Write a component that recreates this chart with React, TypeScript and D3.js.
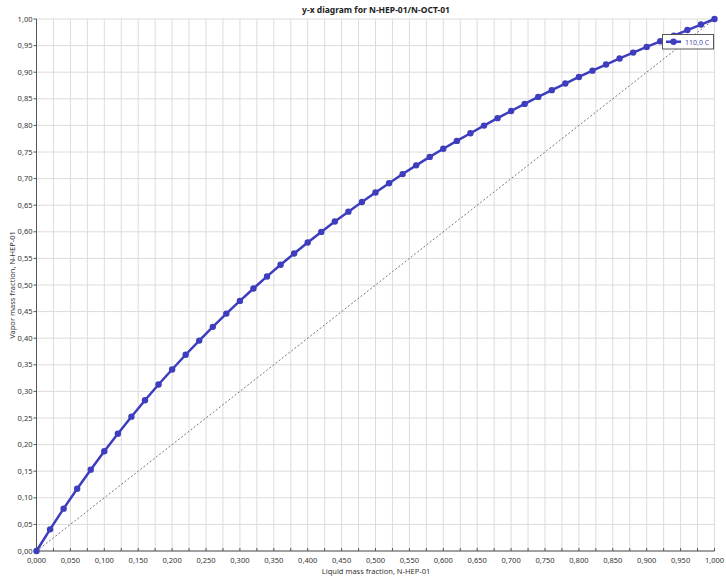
import React from "react";
import * as d3 from "d3";

// Liquid mass fraction of N-HEP-01 (x) and equilibrium vapour mass fraction (y) at 110,0 C
const liquidFraction: number[] = [
  0.0, 0.02, 0.04, 0.06, 0.08, 0.1, 0.12, 0.14, 0.16, 0.18, 0.2, 0.22, 0.24, 0.26, 0.28, 0.3, 0.32,
  0.34, 0.36, 0.38, 0.4, 0.42, 0.44, 0.46, 0.48, 0.5, 0.52, 0.54, 0.56, 0.58, 0.6, 0.62, 0.64,
  0.66, 0.68, 0.7, 0.72, 0.74, 0.76, 0.78, 0.8, 0.82, 0.84, 0.86, 0.88, 0.9, 0.92, 0.94, 0.96,
  0.98, 1.0,
];
const vaporFraction: number[] = [
  0.0, 0.0407, 0.0796, 0.117, 0.1529, 0.1874, 0.2206, 0.2525, 0.2833, 0.3129, 0.3412, 0.3689,
  0.3955, 0.4213, 0.4462, 0.4701, 0.4934, 0.5161, 0.538, 0.5592, 0.5798, 0.5998, 0.6193, 0.6379,
  0.656, 0.6738, 0.6914, 0.7085, 0.7249, 0.7408, 0.7562, 0.7709, 0.7853, 0.7996, 0.8136, 0.8271,
  0.8404, 0.8536, 0.8663, 0.8787, 0.891, 0.9029, 0.9144, 0.9258, 0.9368, 0.9476, 0.9581, 0.9686,
  0.9792, 0.9896, 1.0,
];
const seriesName = "110,0 C";
const chartTitle = "y-x diagram for N-HEP-01/N-OCT-01";
const xTitle = "Liquid mass fraction, N-HEP-01";
const yTitle = "Vapor mass fraction, N-HEP-01";
const xGridTicks: number[] = d3.range(0, 41).map((i) => i * 0.025);
const xLabelTicks: number[] = d3.range(0, 21).map((i) => i * 0.05);
const yTicks: number[] = d3.range(0, 21).map((i) => i * 0.05);

const W = 726;
const H = 576;
const FONT = "'Noto Sans', 'DejaVu Sans', sans-serif";
const BLUE = "#3d3dbd";

export default function App() {
  const x = d3.scaleLinear().domain([0, 1]).range([36.5, 714.5]);
  const y = d3.scaleLinear().domain([0, 1]).range([551, 19]);
  const pts = liquidFraction.map((v, i) => [v, vaporFraction[i]] as [number, number]);
  const line = d3
    .line<[number, number]>()
    .x((d) => x(d[0]))
    .y((d) => y(d[1]));
  const fmtX = (v: number) => d3.format(".3f")(v).replace(".", ",");
  const fmtY = (v: number) => d3.format(".2f")(v).replace(".", ",");

  return (
    <svg
      width={W}
      height={H}
      viewBox={`0 0 ${W} ${H}`}
      style={{ position: "absolute", left: 0, top: 0, background: "#fff" }}
      fontFamily={FONT}
    >
      {/* grid */}
      <g stroke="#dcdcdc" strokeWidth={1}>
        {xGridTicks.map((t) => (
          <line key={"gx" + t} x1={x(t)} x2={x(t)} y1={y(1)} y2={y(0)} />
        ))}
        {yTicks.map((t) => (
          <line key={"gy" + t} x1={x(0)} x2={x(1)} y1={y(t)} y2={y(t)} />
        ))}
      </g>

      {/* axes */}
      <g stroke="#555" strokeWidth={1}>
        <line x1={x(0)} x2={x(0)} y1={y(1)} y2={y(0)} />
        <line x1={x(0)} x2={x(1)} y1={y(0)} y2={y(0)} />
        {xGridTicks.map((t) => (
          <line key={"tx" + t} x1={x(t)} x2={x(t)} y1={y(0)} y2={y(0) - 3} />
        ))}
        {yTicks.map((t) => (
          <line key={"ty" + t} x1={x(0) - 3} x2={x(0)} y1={y(t)} y2={y(t)} />
        ))}
      </g>

      {/* tick labels */}
      <g fontSize={7.5} fill="#333">
        {xLabelTicks.map((t) => (
          <text key={"lx" + t} x={x(t)} y={563} textAnchor="middle">
            {fmtX(t)}
          </text>
        ))}
        {yTicks.map((t) => (
          <text key={"ly" + t} x={x(0) - 4} y={y(t) + 2.6} textAnchor="end">
            {fmtY(t)}
          </text>
        ))}
      </g>

      {/* titles */}
      <text x={376} y={13} textAnchor="middle" fontSize={8.5} fontWeight="bold" fill="#222">
        {chartTitle}
      </text>
      <text x={376} y={574} textAnchor="middle" fontSize={7.5} fill="#333">
        {xTitle}
      </text>
      <text
        transform={`translate(15, ${(y(0) + y(1)) / 2}) rotate(-90)`}
        textAnchor="middle"
        fontSize={7.5}
        fill="#333"
      >
        {yTitle}
      </text>

      {/* diagonal y = x */}
      <line
        x1={x(0)}
        y1={y(0)}
        x2={x(1)}
        y2={y(1)}
        stroke="#777"
        strokeWidth={1}
        strokeDasharray="2,2"
      />

      {/* equilibrium curve */}
      <path d={line(pts) || ""} fill="none" stroke={BLUE} strokeWidth={2.5} />
      <g fill={BLUE}>
        {pts.map((d, i) => (
          <circle key={"p" + i} cx={x(d[0])} cy={y(d[1])} r={3.2} />
        ))}
      </g>

      {/* legend */}
      <g>
        <rect x={662.5} y={34.5} width={51} height={14.5} fill="#fff" stroke="#555" strokeWidth={1} />
        <line x1={666} x2={681} y1={41.75} y2={41.75} stroke={BLUE} strokeWidth={2.5} />
        <circle cx={673.5} cy={41.75} r={3.2} fill={BLUE} />
        <text x={685} y={44.5} fontSize={7} fill="#4a4aa8">
          {seriesName}
        </text>
      </g>
    </svg>
  );
}
